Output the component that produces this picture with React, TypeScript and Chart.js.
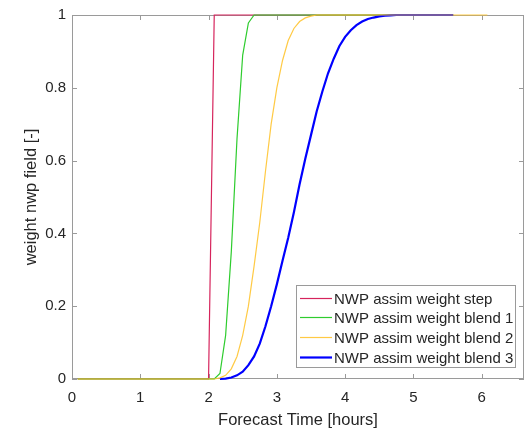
import { useEffect, useRef } from "react";
import { Chart, registerables } from "chart.js";

Chart.register(...registerables);

// ---- data (time in hours) ----
const xTicks = [0, 1, 2, 3, 4, 5, 6];
const yTicks = [0, 0.2, 0.4, 0.6, 0.8, 1];
const xMin = 0;
const xMax = 6.62;

const seriesLabels = [
  "NWP assim weight step",
  "NWP assim weight blend 1",
  "NWP assim weight blend 2",
  "NWP assim weight blend 3",
];

const stepX = [0.0833, 2.0, 2.0833, 5.5833];
const stepY = [0, 0, 1, 1];

const blend1X = [0.0833, 2.0833, 2.1667, 2.25, 2.3333, 2.4167, 2.5, 2.5833, 2.6667, 5.5833];
const blend1Y = [0, 0, 0.015, 0.12, 0.35, 0.66, 0.89, 0.978, 1, 1];

const blend2X = [
  0.0833, 2.0833, 2.1667, 2.25, 2.3333, 2.4167, 2.5, 2.5833, 2.6667, 2.75, 2.8333,
  2.9167, 3.0, 3.0833, 3.1667, 3.25, 3.3333, 3.4167, 3.5, 3.5833, 6.0833,
];
const blend2Y = [
  0, 0, 0.003, 0.01, 0.028, 0.062, 0.12, 0.2, 0.31, 0.43, 0.57,
  0.7, 0.8, 0.875, 0.93, 0.963, 0.982, 0.992, 0.997, 1, 1,
];

const blend3X = [
  2.1667, 2.25, 2.3333, 2.4167, 2.5, 2.5833, 2.6667, 2.75, 2.8333, 2.9167, 3.0,
  3.0833, 3.1667, 3.25, 3.3333, 3.4167, 3.5, 3.5833, 3.6667, 3.75, 3.8333, 3.9167,
  4.0, 4.0833, 4.1667, 4.25, 4.3333, 4.4167, 4.5, 4.5833, 4.6667, 4.75, 5.5833,
];
const blend3Y = [
  0, 0.001, 0.004, 0.01, 0.02, 0.038, 0.062, 0.097, 0.145, 0.2, 0.26,
  0.325, 0.388, 0.458, 0.535, 0.605, 0.67, 0.735, 0.79, 0.84, 0.88, 0.915,
  0.94, 0.958, 0.972, 0.982, 0.989, 0.993, 0.996, 0.998, 0.999, 1, 1,
];

const FONT_FAMILY = '"Liberation Sans", Arial, Helvetica, sans-serif';
const TEXT_COLOR = "#262626";
const AXIS_COLOR = "#9a9a9a";

const toPts = (xs: number[], ys: number[]) => xs.map((x, i) => ({ x, y: ys[i] }));

const framePlugin = {
  id: "matlabFrame",
  beforeDatasetsDraw(chart: any) {
    const { ctx, chartArea, scales } = chart;
    const { left, right, top, bottom } = chartArea;
    ctx.save();
    ctx.strokeStyle = AXIS_COLOR;
    ctx.lineWidth = 1;
    ctx.strokeRect(left + 0.5, top + 0.5, right - left - 1, bottom - top - 1);
    const tl = 5;
    ctx.beginPath();
    for (const v of xTicks) {
      const px = Math.round(scales.x.getPixelForValue(v)) + 0.5;
      ctx.moveTo(px, bottom);
      ctx.lineTo(px, bottom - tl);
      ctx.moveTo(px, top);
      ctx.lineTo(px, top + tl);
    }
    for (const v of yTicks) {
      const py = Math.round(scales.y.getPixelForValue(v)) + 0.5;
      ctx.moveTo(left, py);
      ctx.lineTo(left + tl, py);
      ctx.moveTo(right, py);
      ctx.lineTo(right - tl, py);
    }
    ctx.stroke();
    ctx.restore();
  },
};

const legendPlugin = {
  id: "matlabLegend",
  afterDraw(chart: any) {
    const { ctx, chartArea } = chart;
    const sets = chart.data.datasets;
    ctx.save();
    ctx.font = `15px ${FONT_FAMILY}`;
    const maxW = Math.max(...sets.map((d: any) => ctx.measureText(d.label).width));
    const w = 4 + 31 + 3 + maxW + 3;
    const h = 83;
    const right = chartArea.right - 8;
    const bottom = chartArea.bottom - 11;
    const left = Math.round(right - w);
    const top = Math.round(bottom - h);
    ctx.fillStyle = "#ffffff";
    ctx.fillRect(left, top, right - left, bottom - top);
    ctx.strokeStyle = AXIS_COLOR;
    ctx.lineWidth = 1;
    ctx.strokeRect(left + 0.5, top + 0.5, right - left - 1, bottom - top - 1);
    const rowH = 19.7;
    const legendOrder = [0, 1, 2, 3];
    legendOrder.forEach((idx, i) => {
      const d = sets.find((s: any) => s.label === seriesLabels[idx]);
      const cy = Math.round(top + 12.7 + i * rowH) + 0.5;
      ctx.strokeStyle = d.borderColor;
      ctx.lineWidth = d.borderWidth;
      ctx.beginPath();
      ctx.moveTo(left + 4, cy);
      ctx.lineTo(left + 36, cy);
      ctx.stroke();
      ctx.fillStyle = TEXT_COLOR;
      ctx.textBaseline = "middle";
      ctx.textAlign = "left";
      ctx.fillText(d.label, left + 38, cy + 1);
    });
    ctx.restore();
  },
};

export default function App() {
  const ref = useRef<HTMLCanvasElement>(null);
  useEffect(() => {
    if (!ref.current) return;
    const common = { pointRadius: 0, fill: false, tension: 0, clip: 4 as any };
    const chart = new Chart(ref.current, {
      type: "line",
      data: {
        datasets: [
          { ...common, label: seriesLabels[0], data: toPts(stepX, stepY), borderColor: "rgb(214,36,92)", borderWidth: 1.2, order: 3 },
          { ...common, label: seriesLabels[1], data: toPts(blend1X, blend1Y), borderColor: "rgb(46,204,46)", borderWidth: 1.2, order: 2 },
          { ...common, label: seriesLabels[2], data: toPts(blend2X, blend2Y), borderColor: "rgba(255,196,48,0.9)", borderWidth: 1.2, order: 0 },
          { ...common, label: seriesLabels[3], data: toPts(blend3X, blend3Y), borderColor: "rgb(0,0,255)", borderWidth: 2.2, order: 1 },
        ],
      },
      options: {
        animation: false,
        responsive: false,
        devicePixelRatio: 1,
        layout: { padding: { left: 0, right: 5, top: 10, bottom: 0 } },
        plugins: { legend: { display: false }, tooltip: { enabled: false } },
        scales: {
          x: {
            type: "linear",
            min: xMin,
            max: xMax,
            afterBuildTicks: (s: any) => {
              s.ticks = xTicks.map((v) => ({ value: v }));
            },
            afterFit: (s: any) => {
              s.height = 51;
            },
            grid: { display: false, drawTicks: false },
            border: { display: false },
            ticks: {
              padding: 10,
              maxRotation: 0,
              color: TEXT_COLOR,
              font: { family: FONT_FAMILY, size: 15 },
              callback: (v: any) => String(v),
            },
            title: {
              display: true,
              text: "Forecast Time [hours]",
              color: TEXT_COLOR,
              font: { family: FONT_FAMILY, size: 16.5 },
              padding: { top: 0, bottom: 0 },
            },
          },
          y: {
            type: "linear",
            min: 0,
            max: 1,
            afterBuildTicks: (s: any) => {
              s.ticks = yTicks.map((v) => ({ value: v }));
            },
            afterFit: (s: any) => {
              s.width = 72;
            },
            grid: { display: false, drawTicks: false },
            border: { display: false },
            ticks: {
              padding: 6,
              color: TEXT_COLOR,
              font: { family: FONT_FAMILY, size: 15 },
              callback: (v: any) => String(v),
            },
            title: {
              display: true,
              text: "weight nwp field [-]",
              color: TEXT_COLOR,
              font: { family: FONT_FAMILY, size: 16.5 },
              padding: { top: 22, bottom: 0 },
            },
          },
        },
      },
      plugins: [framePlugin, legendPlugin],
    });
    return () => chart.destroy();
  }, []);
  return (
    <div style={{ position: "fixed", left: 0, top: 0, width: 529, height: 430, background: "#fff" }}>
      <canvas ref={ref} width={529} height={430} />
    </div>
  );
}
